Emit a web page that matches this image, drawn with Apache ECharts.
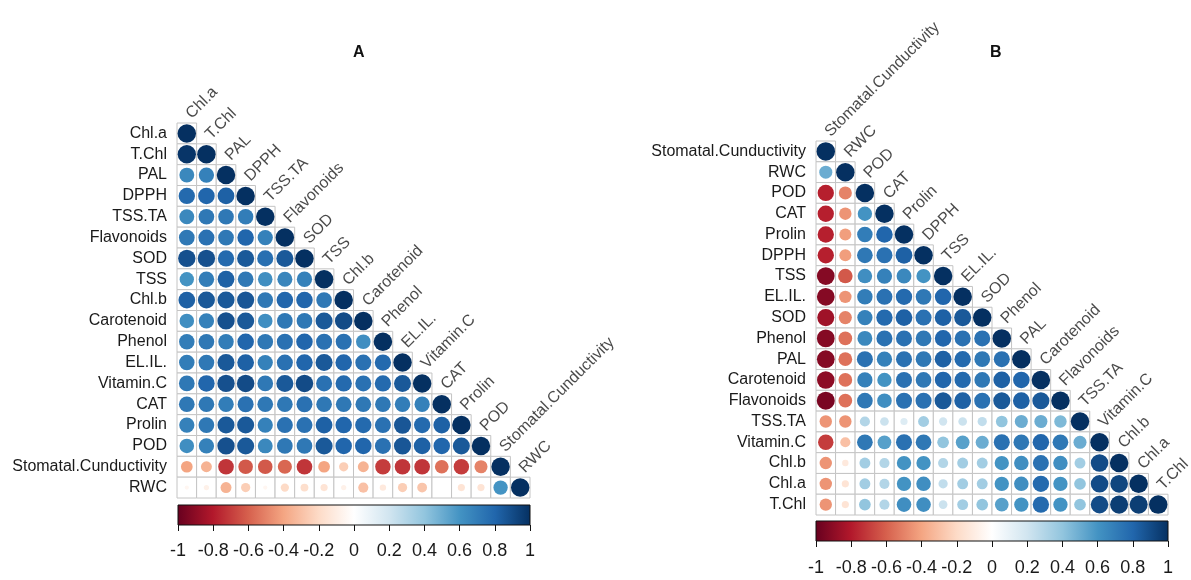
<!DOCTYPE html>
<html>
<head>
<meta charset="utf-8">
<script src="https://cdn.jsdelivr.net/npm/echarts@6/dist/echarts.min.js"></script>
<style>
  html, body { margin: 0; padding: 0; background: #fff; }
  #chart { width: 1191px; height: 580px; }
</style>
</head>
<body>
<div id="chart"></div>
<script>
// Variable order of each correlation matrix (rows top to bottom, columns left to right)
const varsA = ['Chl.a', 'T.Chl', 'PAL', 'DPPH', 'TSS.TA', 'Flavonoids', 'SOD', 'TSS', 'Chl.b',
  'Carotenoid', 'Phenol', 'EL.IL.', 'Vitamin.C', 'CAT', 'Prolin', 'POD', 'Stomatal.Cunductivity', 'RWC'];
const varsB = ['Stomatal.Cunductivity', 'RWC', 'POD', 'CAT', 'Prolin', 'DPPH', 'TSS', 'EL.IL.', 'SOD',
  'Phenol', 'PAL', 'Carotenoid', 'Flavonoids', 'TSS.TA', 'Vitamin.C', 'Chl.b', 'Chl.a', 'T.Chl'];

// Lower triangle of the correlation matrices: row i holds r(i, j) for j < i (diagonal is 1)
const corrA = [
  [],
  [0.98],
  [0.65, 0.68],
  [0.78, 0.80, 0.82],
  [0.65, 0.72, 0.72, 0.70],
  [0.72, 0.75, 0.72, 0.80, 0.68],
  [0.88, 0.88, 0.78, 0.85, 0.76, 0.85],
  [0.60, 0.70, 0.82, 0.72, 0.62, 0.66, 0.68],
  [0.82, 0.85, 0.85, 0.86, 0.72, 0.80, 0.80, 0.72],
  [0.62, 0.68, 0.88, 0.85, 0.62, 0.72, 0.72, 0.85, 0.90],
  [0.70, 0.72, 0.70, 0.80, 0.72, 0.75, 0.80, 0.75, 0.75, 0.62],
  [0.70, 0.72, 0.85, 0.82, 0.68, 0.75, 0.80, 0.85, 0.80, 0.75, 0.78],
  [0.72, 0.80, 0.88, 0.90, 0.72, 0.85, 0.90, 0.75, 0.78, 0.75, 0.78, 0.85],
  [0.72, 0.72, 0.70, 0.75, 0.72, 0.72, 0.75, 0.72, 0.72, 0.72, 0.72, 0.70, 0.68],
  [0.68, 0.72, 0.85, 0.85, 0.68, 0.75, 0.75, 0.82, 0.80, 0.78, 0.75, 0.86, 0.78, 0.82],
  [0.62, 0.68, 0.88, 0.85, 0.65, 0.72, 0.72, 0.85, 0.80, 0.80, 0.75, 0.86, 0.82, 0.80, 0.85],
  [-0.40, -0.35, -0.72, -0.62, -0.62, -0.58, -0.72, -0.40, -0.25, -0.35, -0.70, -0.72, -0.72, -0.55, -0.70, -0.50],
  [-0.05, -0.08, -0.35, -0.25, -0.05, -0.20, -0.18, -0.15, -0.08, -0.30, -0.12, -0.25, -0.28, 0.00, -0.15, -0.15, 0.60]
];
const corrB = [
  [],
  [0.50],
  [-0.78, -0.50],
  [-0.78, -0.45, 0.60],
  [-0.78, -0.42, 0.70, 0.80],
  [-0.78, -0.42, 0.72, 0.75, 0.82],
  [-0.92, -0.62, 0.62, 0.68, 0.65, 0.60],
  [-0.92, -0.45, 0.70, 0.75, 0.78, 0.72, 0.80],
  [-0.85, -0.50, 0.68, 0.78, 0.82, 0.75, 0.82, 0.85],
  [-0.92, -0.55, 0.65, 0.75, 0.75, 0.72, 0.80, 0.75, 0.75],
  [-0.92, -0.55, 0.75, 0.68, 0.75, 0.72, 0.82, 0.78, 0.72, 0.75],
  [-0.90, -0.55, 0.68, 0.60, 0.75, 0.72, 0.80, 0.78, 0.72, 0.82, 0.80],
  [-0.95, -0.55, 0.72, 0.62, 0.75, 0.75, 0.85, 0.82, 0.75, 0.85, 0.82, 0.85],
  [-0.45, -0.45, 0.30, 0.22, 0.15, 0.35, 0.20, 0.22, 0.25, 0.40, 0.50, 0.50, 0.45],
  [-0.70, -0.30, 0.72, 0.55, 0.75, 0.72, 0.40, 0.55, 0.50, 0.75, 0.72, 0.80, 0.72, 0.50],
  [-0.45, -0.12, 0.35, 0.30, 0.60, 0.60, 0.30, 0.35, 0.35, 0.60, 0.62, 0.75, 0.62, 0.35, 0.90],
  [-0.45, -0.15, 0.35, 0.30, 0.60, 0.62, 0.25, 0.35, 0.35, 0.60, 0.62, 0.78, 0.60, 0.40, 0.90, 0.92],
  [-0.45, -0.15, 0.40, 0.30, 0.62, 0.62, 0.22, 0.35, 0.40, 0.55, 0.60, 0.78, 0.60, 0.40, 0.90, 0.95, 0.95]
];

// Colour key ticks
const keyTicks = [-1, -0.8, -0.6, -0.4, -0.2, 0, 0.2, 0.4, 0.6, 0.8, 1];

// Diverging red-white-blue palette
const palette = ['#67001F', '#B2182B', '#D6604D', '#F4A582', '#FDDBC7', '#FFFFFF',
  '#D1E5F0', '#92C5DE', '#4393C3', '#2166AC', '#053061'];

const FULL_D = 18.5; // circle diameter at |r| = 1
const TXT = '#1a1a1a';
const FONT = 'Liberation Sans, Arial, sans-serif';

function triangle(corr) {
  const pts = [];
  corr.forEach((row, i) => {
    row.forEach((v, j) => pts.push([j, i, v]));
    pts.push([i, i, 1]);
  });
  return pts;
}
function diagonal(vars) {
  return vars.map((name, i) => [i, i, name]);
}

function renderCell(params, api) {
  const p = api.coord([api.value(0), api.value(1)]);
  const s = api.size([1, 1]);
  return {
    type: 'rect',
    shape: { x: p[0] - s[0] / 2, y: p[1] - s[1] / 2, width: s[0], height: s[1] },
    style: { fill: '#fff', stroke: '#c4c4c4', lineWidth: 1 }
  };
}

function renderKey(params, api) {
  const a = api.coord([api.value(0), api.value(3)]);
  const b = api.coord([api.value(2), api.value(1)]);
  const stops = palette.map((c, k) => ({ offset: k / (palette.length - 1), color: c }));
  return {
    type: 'rect',
    shape: { x: a[0], y: a[1], width: b[0] - a[0], height: b[1] - a[1] },
    style: { fill: new echarts.graphic.LinearGradient(0, 0, 1, 0, stops), stroke: '#111', lineWidth: 1 }
  };
}

const gridsPx = [
  { left: 177, top: 123, width: 353, height: 375 },
  { left: 816, top: 141, width: 352, height: 374 },
  { left: 178, top: 505, width: 352, height: 20 },
  { left: 816, top: 521, width: 352, height: 20 }
];

function matrixAxes(vars, gi) {
  return {
    x: {
      type: 'category', gridIndex: gi, data: vars, show: false
    },
    y: {
      type: 'category', gridIndex: gi, data: vars, inverse: true,
      axisLine: { show: false }, axisTick: { show: false }, splitLine: { show: false },
      axisLabel: { color: TXT, fontSize: 16, fontFamily: FONT, margin: 10, interval: 0 }
    }
  };
}
const axA = matrixAxes(varsA, 0);
const axB = matrixAxes(varsB, 1);

function keyAxes(gi, margin) {
  return {
    x: {
      type: 'value', gridIndex: gi, min: keyTicks[0], max: keyTicks[keyTicks.length - 1],
      interval: 0.2,
      axisLine: { show: false },
      splitLine: { show: false },
      axisTick: { show: true, length: 6, lineStyle: { color: '#111' } },
      axisLabel: { color: TXT, fontSize: 18, fontFamily: FONT, margin: margin, hideOverlap: false,
        showMinLabel: true, showMaxLabel: true }
    },
    y: { type: 'value', gridIndex: gi, min: 0, max: 1, show: false }
  };
}
const kA = keyAxes(2, 17);
const kB = keyAxes(3, 18);

function cellSeries(corr, idx) {
  return {
    type: 'custom', xAxisIndex: idx, yAxisIndex: idx, renderItem: renderCell,
    encode: { x: 0, y: 1 }, data: triangle(corr), silent: true, z: 1
  };
}
function circleSeries(corr, idx) {
  return {
    type: 'scatter', xAxisIndex: idx, yAxisIndex: idx, data: triangle(corr),
    symbol: 'circle', symbolSize: v => FULL_D * Math.sqrt(Math.abs(v[2])),
    itemStyle: { opacity: 1 },
    silent: true, z: 3
  };
}
function diagLabelSeries(vars, idx) {
  return {
    type: 'scatter', xAxisIndex: idx, yAxisIndex: idx, data: diagonal(vars),
    symbol: 'rect', symbolSize: [19.6, 20.8],
    itemStyle: { color: 'rgba(0,0,0,0)' },
    silent: true, z: 4,
    label: {
      show: true, formatter: p => p.data[2], position: ['88%', '-6%'],
      rotate: 45, align: 'left', verticalAlign: 'bottom',
      color: TXT, fontSize: 16, fontFamily: FONT
    }
  };
}

const option = {
  backgroundColor: '#fff',
  animation: false,
  title: [
    { text: 'A', left: 348, top: 40, textStyle: { fontSize: 16, fontWeight: 'bold', color: '#111', fontFamily: FONT } },
    { text: 'B', left: 985, top: 40, textStyle: { fontSize: 16, fontWeight: 'bold', color: '#111', fontFamily: FONT } }
  ],
  grid: gridsPx.map(g => Object.assign({ containLabel: false }, g)),
  xAxis: [axA.x, axB.x, kA.x, kB.x],
  yAxis: [axA.y, axB.y, kA.y, kB.y],
  visualMap: {
    type: 'continuous', show: false, min: -1, max: 1, dimension: 2,
    seriesIndex: [1, 4], inRange: { color: palette }
  },
  series: [
    cellSeries(corrA, 0),
    circleSeries(corrA, 0),
    diagLabelSeries(varsA, 0),
    cellSeries(corrB, 1),
    circleSeries(corrB, 1),
    diagLabelSeries(varsB, 1),
    { type: 'custom', xAxisIndex: 2, yAxisIndex: 2, renderItem: renderKey, data: [[-1, 0, 1, 1]], silent: true },
    { type: 'custom', xAxisIndex: 3, yAxisIndex: 3, renderItem: renderKey, data: [[-1, 0, 1, 1]], silent: true }
  ]
};

const chart = echarts.init(document.getElementById('chart'), null, { renderer: 'canvas' });
chart.setOption(option);
</script>
</body>
</html>
